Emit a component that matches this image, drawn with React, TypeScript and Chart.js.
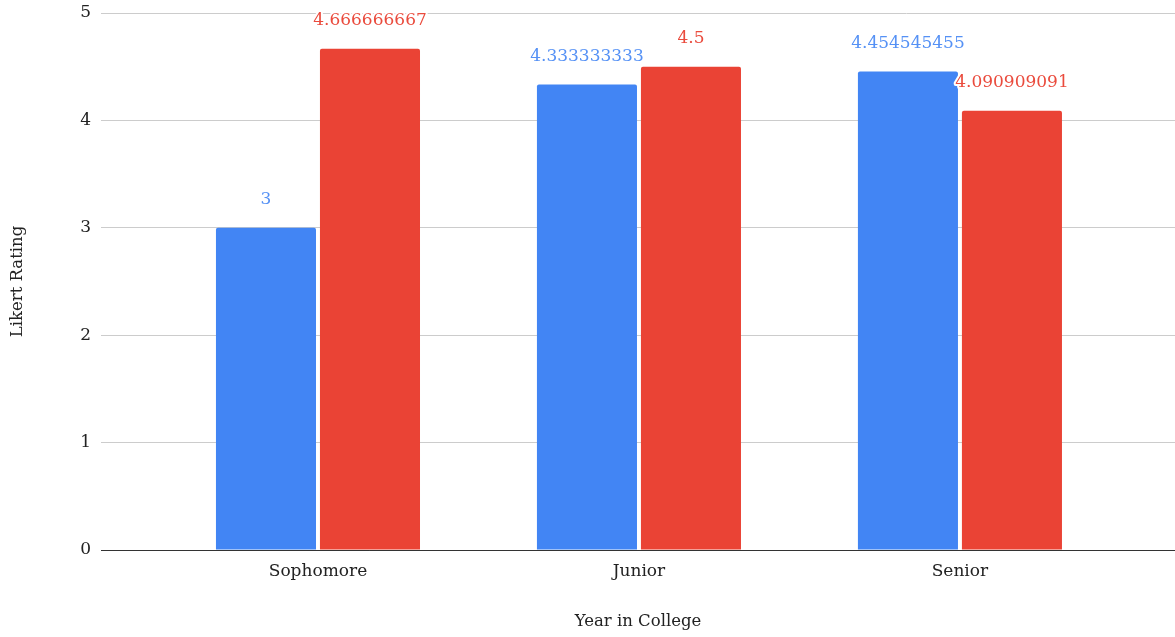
import React, { useEffect, useRef } from "react";
import { Chart, registerables } from "chart.js";

Chart.register(...registerables);

const categories = ["Sophomore", "Junior", "Senior"];
const seriesA = [3, 4.333333333, 4.454545455];
const seriesB = [4.666666667, 4.5, 4.090909091];
const yTicks = [0, 1, 2, 3, 4, 5];

const BLUE = "#4285F4";
const RED = "#EA4335";
const FONT = "'DejaVu Serif', serif";

const valueLabels = {
  id: "valueLabels",
  afterDatasetsDraw(chart: any) {
    const ctx = chart.ctx;
    ctx.save();
    ctx.font = `17px ${FONT}`;
    ctx.textAlign = "center";
    ctx.textBaseline = "middle";
    chart.data.datasets.forEach((ds: any, di: number) => {
      const meta = chart.getDatasetMeta(di);
      meta.data.forEach((el: any, i: number) => {
        const raw = ds.data[i];
        const v = typeof raw === "object" ? raw.y : raw;
        const txt = String(v);
        const x = el.x;
        const y = el.y - 28;
        ctx.lineWidth = 4;
        ctx.strokeStyle = "#ffffff";
        ctx.lineJoin = "round";
        ctx.strokeText(txt, x, y);
        ctx.fillStyle = ds.labelColor;
        ctx.fillText(txt, x, y);
      });
    });
    ctx.restore();
  },
};

export default function App() {
  const ref = useRef<HTMLCanvasElement>(null);
  useEffect(() => {
    document.body.style.margin = "0";
    const mk = (vals: number[]) => vals.map((v, i) => ({ x: i, y: v }));
    const chart = new Chart(ref.current!, {
      type: "bar",
      data: {
        datasets: [
          {
            data: mk(seriesA),
            backgroundColor: BLUE,
            labelColor: "#5591F5",
            borderRadius: 2,
            borderSkipped: "bottom",
            categoryPercentage: 0.648,
            barPercentage: 0.962,
          } as any,
          {
            data: mk(seriesB),
            backgroundColor: RED,
            labelColor: "#EA4B3D",
            borderRadius: 2,
            borderSkipped: "bottom",
            categoryPercentage: 0.648,
            barPercentage: 0.962,
          } as any,
        ],
      },
      options: {
        animation: false,
        responsive: false,
        maintainAspectRatio: false,
        layout: { padding: { top: 13, right: 0, left: 0, bottom: 0 } },
        plugins: { legend: { display: false }, tooltip: { enabled: false } },
        scales: {
          x: {
            type: "linear",
            offset: false,
            min: -0.676,
            max: 2.67,
            afterBuildTicks: (scale: any) => {
              scale.ticks = categories.map((_, i) => ({ value: i }));
            },
            afterFit: (scale: any) => {
              scale.height = 87;
              scale.paddingLeft = 0;
              scale.paddingRight = 0;
            },
            ticks: {
              autoSkip: false,
              maxRotation: 0,
              padding: 11,
              color: "#222",
              font: { family: FONT, size: 17 },
              callback: (v: any) => categories[v as number] ?? "",
            },
            grid: { display: false, drawTicks: false, offset: false },
            border: { display: true, color: "#333", width: 1 },
            title: {
              display: true,
              text: "Year in College",
              color: "#222",
              font: { family: FONT, size: 16.5 },
              padding: { top: 0, bottom: 5 },
            },
          },
          y: {
            min: 0,
            max: 5,
            afterBuildTicks: (scale: any) => {
              scale.ticks = yTicks.map((v) => ({ value: v }));
            },
            afterFit: (scale: any) => {
              scale.width = 101;
              scale.paddingTop = 0;
              scale.paddingBottom = 0;
            },
            ticks: {
              padding: 10,
              color: "#222",
              font: { family: FONT, size: 17 },
            },
            grid: {
              drawTicks: false,
              color: (c: any) => (c.tick && c.tick.value === 0 ? "#333" : "#cccccc"),
              lineWidth: 1,
            },
            border: { display: false },
            title: {
              display: true,
              text: "Likert Rating",
              color: "#222",
              font: { family: FONT, size: 16.5 },
              padding: { top: 8, bottom: 0 },
            },
          },
        },
      } as any,
      plugins: [valueLabels],
    });
    return () => chart.destroy();
  }, []);
  return (
    <div style={{ position: "fixed", left: 0, top: 0, width: 1175, height: 637, background: "#fff" }}>
      <canvas ref={ref} width={1175} height={637} style={{ display: "block" }} />
    </div>
  );
}
